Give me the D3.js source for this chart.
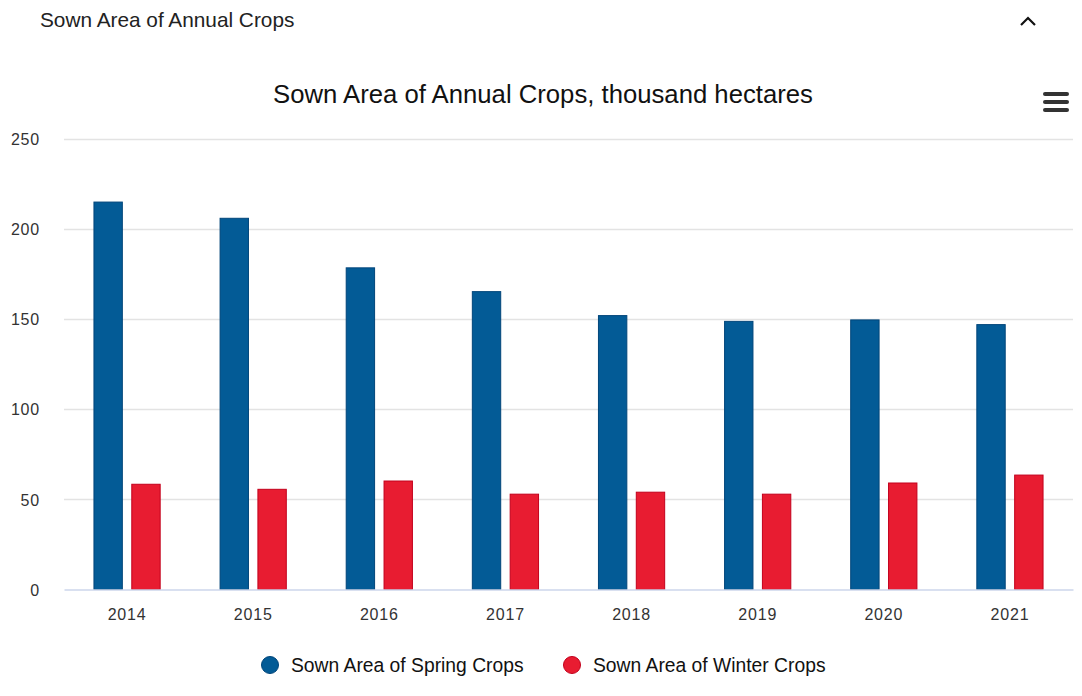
<!DOCTYPE html>
<html>
<head>
<meta charset="utf-8">
<script src="https://cdn.jsdelivr.net/npm/d3@7"></script>
<style>
  html, body { margin: 0; padding: 0; background: #fff; }
  svg { display: block; font-family: "Liberation Sans", Arial, Helvetica, sans-serif; }
</style>
</head>
<body>
<svg id="chart" width="1082" height="696"></svg>
<script>
// Sown area of annual crops, thousand hectares
const years = ["2014", "2015", "2016", "2017", "2018", "2019", "2020", "2021"];
const seriesNames = ["Sown Area of Spring Crops", "Sown Area of Winter Crops"];
const springCrops = [215.0, 206.0, 178.5, 165.3, 152.0, 148.8, 149.6, 147.0];
const winterCrops = [58.4, 55.6, 60.2, 52.9, 54.0, 52.9, 59.1, 63.5];
const yTicks = [0, 50, 100, 150, 200, 250];
const seriesColors = ["#035b96", "#e81c31"];
const seriesBorders = ["#00457a", "#c3001c"];

const svg = d3.select("#chart");
const margin = { left: 64, right: 1073, top: 139, bottom: 589.5 };

// Panel header
svg.append("text")
  .attr("x", 40).attr("y", 27)
  .attr("font-size", 20.8).attr("fill", "#222")
  .text("Sown Area of Annual Crops");
svg.append("path")
  .attr("d", "M1021,25 L1028,18 L1035,25")
  .attr("fill", "none").attr("stroke", "#111").attr("stroke-width", 2.2);

// Chart title
svg.append("text")
  .attr("x", 543).attr("y", 103)
  .attr("text-anchor", "middle")
  .attr("font-size", 25.7).attr("fill", "#111")
  .text("Sown Area of Annual Crops, thousand hectares");

// Export menu icon
[94, 102, 110].forEach(y => {
  svg.append("line")
    .attr("x1", 1045).attr("x2", 1067).attr("y1", y).attr("y2", y)
    .attr("stroke", "#333").attr("stroke-width", 4).attr("stroke-linecap", "round");
});

const y = d3.scaleLinear().domain([0, 250]).range([margin.bottom, margin.top]);
const x0 = d3.scaleBand().domain(years).range([margin.left, margin.right]).padding(0);
const bw = x0.bandwidth();
const x1 = d3.scaleBand().domain(seriesNames).range([bw * 0.2, bw * 0.8]).padding(0);
const slot = x1.bandwidth();

// Gridlines
svg.append("g").selectAll("line")
  .data(yTicks.filter(d => d > 0))
  .join("line")
  .attr("x1", margin.left).attr("x2", margin.right)
  .attr("y1", d => Math.round(y(d)) + 0.5).attr("y2", d => Math.round(y(d)) + 0.5)
  .attr("stroke", "#e3e3e3").attr("stroke-width", 1.5);

// Y axis labels
const yAxis = d3.axisLeft(y).tickValues(yTicks).tickSize(0).tickPadding(0);
const gy = svg.append("g").attr("transform", "translate(40,0)").call(yAxis);
gy.select(".domain").remove();
gy.selectAll("text")
  .attr("font-size", 16).attr("fill", "#333")
  .attr("font-family", "Liberation Sans, Arial, sans-serif")
  .attr("letter-spacing", 0.8)
  .attr("dy", "0.35em");

// Bars
const seriesData = [springCrops, winterCrops];
seriesData.forEach((vals, si) => {
  svg.append("g").selectAll("rect")
    .data(vals)
    .join("rect")
    .attr("x", (d, i) => x0(years[i]) + x1(seriesNames[si]) + slot * 0.125)
    .attr("width", slot * 0.75)
    .attr("y", d => y(d))
    .attr("height", d => y(0) - y(d))
    .attr("fill", seriesColors[si])
    .attr("stroke", seriesBorders[si])
    .attr("stroke-width", 1);
});

// X axis
const xAxis = d3.axisBottom(x0).tickSize(0).tickPadding(0);
const gx = svg.append("g").attr("transform", `translate(0,${margin.bottom})`).call(xAxis);
gx.select(".domain")
  .attr("stroke", "#ccd6eb").attr("stroke-width", 1.5);
gx.selectAll("text")
  .attr("font-size", 16).attr("fill", "#333")
  .attr("font-family", "Liberation Sans, Arial, sans-serif")
  .attr("letter-spacing", 0.8)
  .attr("dy", 0).attr("y", 30);

// Legend
const legendX = [270, 572];
seriesNames.forEach((name, si) => {
  const g = svg.append("g").attr("transform", `translate(${legendX[si]},665)`);
  g.append("circle").attr("r", 8.5)
    .attr("fill", seriesColors[si]).attr("stroke", seriesBorders[si]).attr("stroke-width", 1);
  g.append("text").attr("x", 21).attr("y", 6.5)
    .attr("font-size", 19.3).attr("fill", "#111")
    .text(name);
});
</script>
</body>
</html>
